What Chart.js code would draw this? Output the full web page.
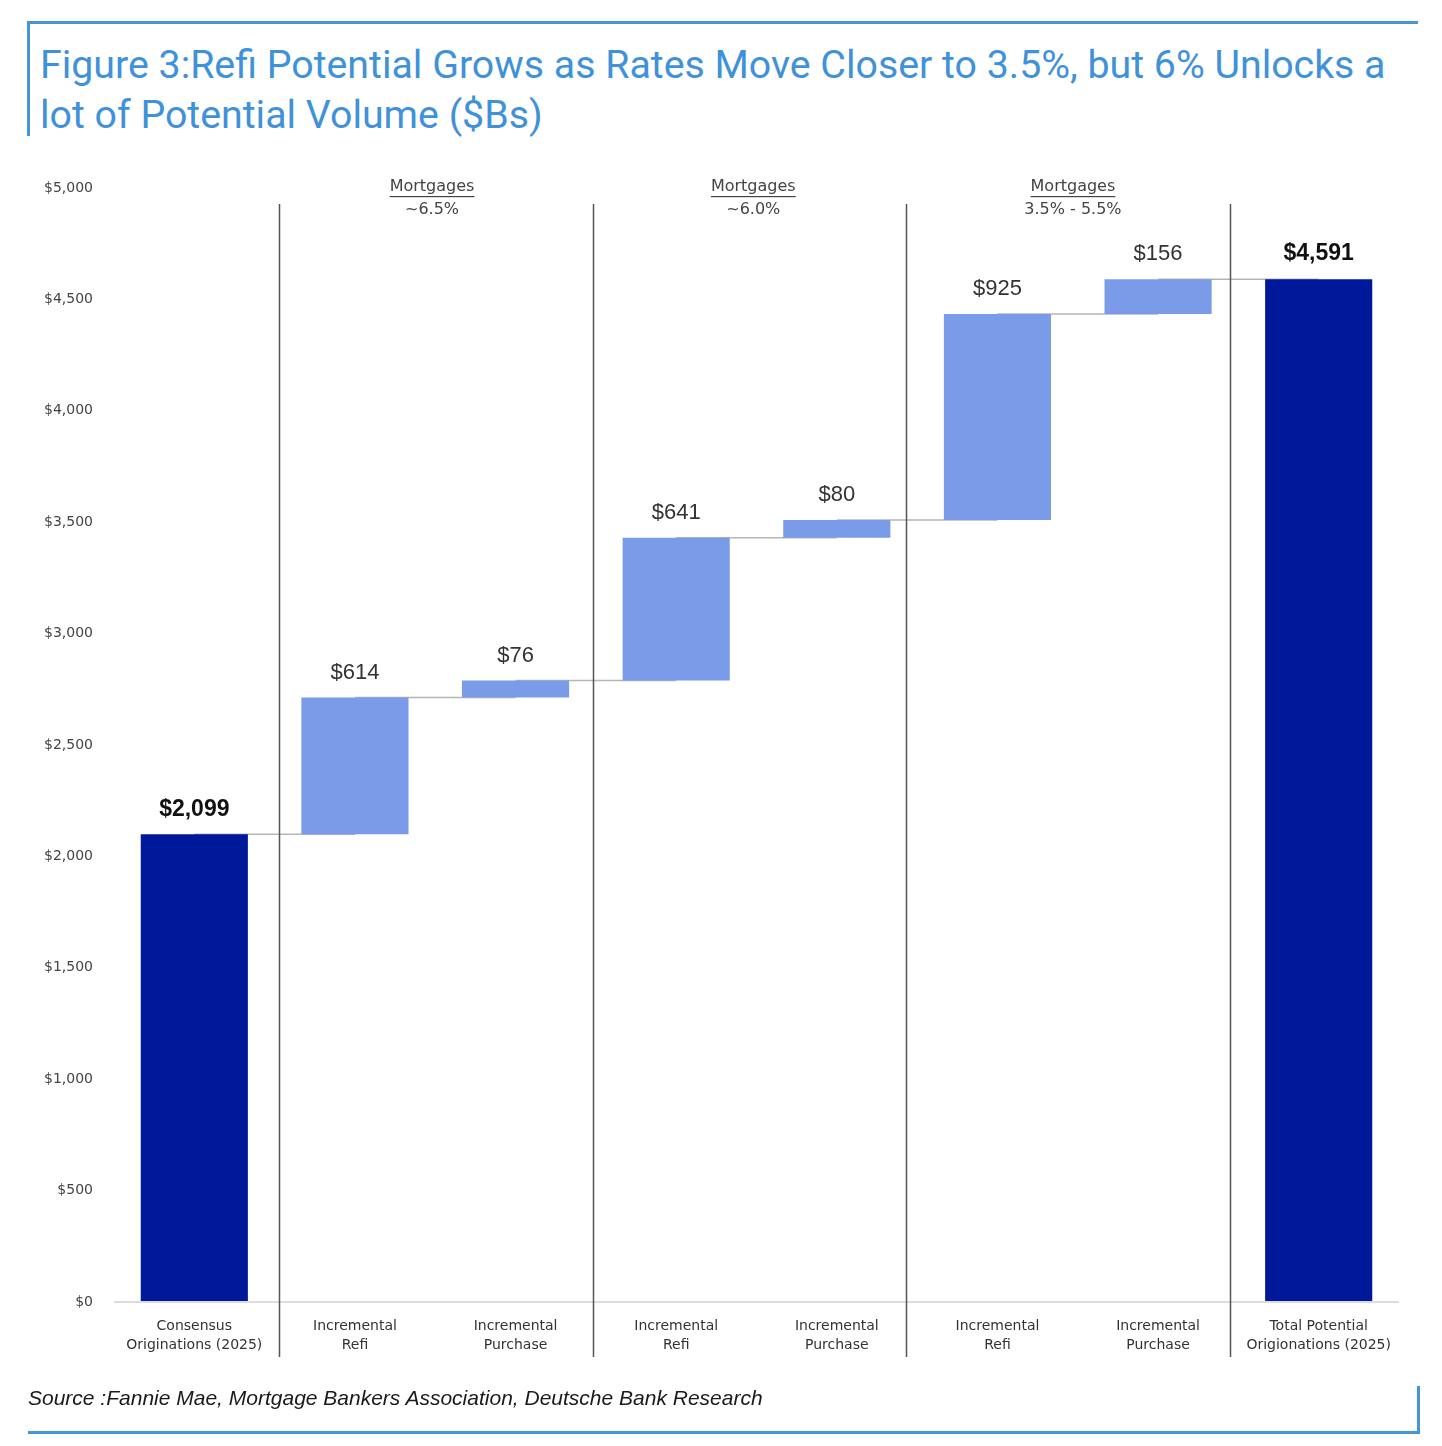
<!DOCTYPE html>
<html lang="en">
<head>
    <meta charset="UTF-8">
    <script src="https://cdn.jsdelivr.net/npm/chart.js@4"></script>
    <title>Refi Potential</title>
    <style>
        body { margin: 0; background: #fff; }
        #page { position: relative; width: 1442px; height: 1446px; overflow: hidden; }
        .rule { position: absolute; background: #4696d7; }
        #title {
            position: absolute; left: 40px; top: 40px;
            font-family: Roboto, sans-serif; font-size: 39.3px; line-height: 50px;
            color: #3f92d9; white-space: nowrap;
        }
        #source {
            position: absolute; left: 28px; top: 1386px;
            font-family: "Liberation Sans", Arial, sans-serif; font-style: italic;
            font-size: 21px; color: #1a1a1a; white-space: nowrap;
        }
        #wrap { position: absolute; left: 0; top: 0; width: 1442px; height: 1446px; }
    </style>
</head>
<body>
<div id="page">
    <div class="rule" style="left:28px;top:21px;width:1390px;height:3px"></div>
    <div class="rule" style="left:27px;top:21px;width:3px;height:115px"></div>
    <div class="rule" style="left:28px;top:1431px;width:1392px;height:3px"></div>
    <div class="rule" style="left:1417px;top:1386px;width:3px;height:48px"></div>
    <div id="title">Figure 3:Refi Potential Grows as Rates Move Closer to 3.5%, but 6% Unlocks a<br>lot of Potential Volume ($Bs)</div>
    <div id="wrap"><canvas id="chart"></canvas></div>
    <div id="source">Source :Fannie Mae, Mortgage Bankers Association, Deutsche Bank Research</div>
</div>

<script>
    // categories (two-line tick labels)
    const categories = [
        ['Consensus', 'Originations (2025)'],
        ['Incremental', 'Refi'],
        ['Incremental', 'Purchase'],
        ['Incremental', 'Refi'],
        ['Incremental', 'Purchase'],
        ['Incremental', 'Refi'],
        ['Incremental', 'Purchase'],
        ['Total Potential', 'Origionations (2025)']
    ];
    // $Bs; totals are full bars, the rest are increments
    const values = [2099, 614, 76, 641, 80, 925, 156, 4591];
    const isTotal = [true, false, false, false, false, false, false, true];
    const valueLabels = ['$2,099', '$614', '$76', '$641', '$80', '$925', '$156', '$4,591'];

    const groupTitles = ['Mortgages', 'Mortgages', 'Mortgages'];
    const groupRates = ['~6.5%', '~6.0%', '3.5% - 5.5%'];

    const yTicks = [0, 500, 1000, 1500, 2000, 2500, 3000, 3500, 4000, 4500, 5000];

    // build floating bars for the waterfall
    let running = 0;
    const floating = values.map((v, i) => {
        if (isTotal[i]) { running = v; return [0, v]; }
        const start = running;
        running += v;
        return [start, running];
    });

    const TOTAL = '#00199b';
    const STEP = '#7a9ce8';
    const FONT = '"Liberation Sans", Arial, sans-serif';
    const SMALL = '"DejaVu Sans", sans-serif';

    const extras = {
        id: 'extras',
        beforeDatasetsDraw(chart) {
            // connector lines between bar tops
            const { ctx, scales: { x, y } } = chart;
            ctx.save();
            ctx.strokeStyle = '#b5b5b5';
            ctx.lineWidth = 1.5;
            for (let i = 0; i < floating.length - 1; i++) {
                const lvl = y.getPixelForValue(floating[i][1]);
                ctx.beginPath();
                ctx.moveTo(x.getPixelForValue(i), lvl);
                ctx.lineTo(x.getPixelForValue(i + 1), lvl);
                ctx.stroke();
            }
            ctx.restore();
        },
        afterDatasetsDraw(chart) {
            const { ctx, scales: { x, y } } = chart;
            ctx.save();
            // group separators
            ctx.strokeStyle = '#555';
            ctx.lineWidth = 1.5;
            [0.53, 2.48, 4.43, 6.45].forEach(p => {
                const px = Math.round(x.getPixelForValue(p)) + 0.5;
                ctx.beginPath();
                ctx.moveTo(px, 204);
                ctx.lineTo(px, 1357);
                ctx.stroke();
            });

            // group headers
            ctx.textAlign = 'center';
            ctx.textBaseline = 'middle';
            ctx.fillStyle = '#444';
            ctx.font = '16px ' + SMALL;
            [1.48, 3.48, 5.47].forEach((p, i) => {
                const cx = x.getPixelForValue(p);
                ctx.fillText(groupTitles[i], cx, 187);
                const w = ctx.measureText(groupTitles[i]).width;
                ctx.fillRect(cx - w / 2, 196, w, 1.2);
                ctx.fillText(groupRates[i], cx, 210);
            });

            // value labels above bars
            floating.forEach((r, i) => {
                ctx.font = (isTotal[i] ? 'bold 23px ' : '22px ') + FONT;
                ctx.fillStyle = isTotal[i] ? '#111' : '#333';
                ctx.fillText(valueLabels[i], x.getPixelForValue(i), y.getPixelForValue(r[1]) - 25);
            });
            ctx.restore();
        }
    };

    new Chart(document.getElementById('chart'), {
        type: 'bar',
        data: {
            labels: categories,
            datasets: [{
                data: floating,
                backgroundColor: isTotal.map(t => t ? TOTAL : STEP),
                borderWidth: 0,
                categoryPercentage: 1,
                barPercentage: 0.667
            }]
        },
        options: {
            responsive: true,
            maintainAspectRatio: false,
            animation: false,
            layout: { padding: { left: 34, right: 43, top: 188, bottom: 84 } },
            plugins: { legend: { display: false }, tooltip: { enabled: false } },
            scales: {
                x: {
                    grid: { display: false },
                    border: { display: false },
                    afterFit(s) { s.height = 60; },
                    ticks: {
                        color: '#333',
                        font: { family: SMALL, size: 14, lineHeight: 1.35 },
                        padding: 7,
                        maxRotation: 0,
                        autoSkip: false
                    }
                },
                y: {
                    min: 0,
                    max: 5000,
                    afterFit(s) { s.width = 80; },
                    afterBuildTicks(s) { s.ticks = yTicks.map(v => ({ value: v })); },
                    border: { display: false },
                    grid: {
                        drawTicks: false,
                        lineWidth: 2,
                        color: c => c.tick && c.tick.value === 0 ? '#dcdcdc' : 'rgba(0,0,0,0)'
                    },
                    ticks: {
                        color: '#444',
                        padding: 21,
                        font: { family: SMALL, size: 14 },
                        callback: v => '$' + v.toLocaleString('en-US')
                    }
                }
            }
        },
        plugins: [extras]
    });
</script>
</body>
</html>
